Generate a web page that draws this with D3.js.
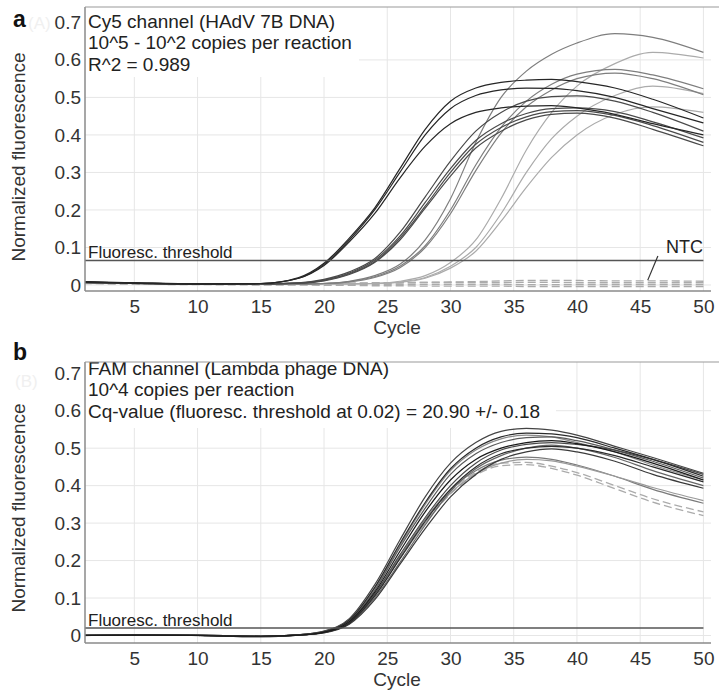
<!DOCTYPE html>
<html>
<head>
<meta charset="utf-8">
<script src="https://cdn.jsdelivr.net/npm/d3@7"></script>
<style>
  body { margin: 0; background: #fff; }
  text { font-family: "Liberation Sans", Arial, sans-serif; }
</style>
</head>
<body>
<div id="chart"></div>
<script>
const cycles = [1, 5, 10, 15, 18, 20, 22, 24, 26, 28, 30, 32, 34, 36, 38, 40, 43, 46, 50];
const xTicks = [5, 10, 15, 20, 25, 30, 35, 40, 45, 50];
const yTicks = [0, 0.1, 0.2, 0.3, 0.4, 0.5, 0.6, 0.7];
const gridY = [0, 0.1, 0.2, 0.3, 0.4, 0.5, 0.6];

// panel a, Cy5 channel, by dilution
const cy5_1e5 = [
  [.008,.005,.003,.004,.02,.058,.125,.205,.31,.415,.49,.525,.54,.546,.548,.542,.525,.495,.445],
  [.007,.005,.003,.004,.018,.055,.12,.2,.30,.40,.47,.505,.52,.525,.524,.518,.50,.47,.432],
  [.009,.006,.003,.004,.018,.052,.115,.19,.285,.37,.43,.46,.472,.477,.478,.472,.455,.43,.40]
];
const cy5_1e4 = [
  [.008,.005,.003,.003,.006,.015,.035,.07,.14,.235,.33,.41,.46,.49,.502,.504,.49,.46,.41],
  [.007,.005,.003,.003,.005,.013,.032,.066,.13,.22,.31,.385,.43,.457,.47,.472,.462,.435,.392],
  [.008,.005,.003,.003,.005,.012,.03,.062,.125,.21,.30,.375,.42,.448,.462,.465,.452,.425,.38],
  [.006,.004,.002,.003,.005,.011,.028,.06,.12,.205,.29,.365,.41,.44,.455,.458,.445,.415,.371]
];
const cy5_1e3 = [
  [.007,.004,.002,.002,.003,.004,.01,.025,.055,.12,.23,.38,.50,.57,.615,.645,.67,.66,.62],
  [.006,.004,.002,.002,.003,.004,.009,.022,.05,.105,.20,.32,.42,.49,.535,.562,.575,.56,.523],
  [.007,.004,.002,.002,.003,.004,.008,.02,.046,.10,.19,.305,.405,.475,.52,.55,.565,.55,.507]
];
const cy5_1e2 = [
  [.006,.004,.002,.002,.002,.003,.003,.004,.01,.025,.06,.12,.23,.36,.46,.53,.59,.62,.605],
  [.006,.004,.002,.002,.002,.003,.003,.004,.008,.02,.05,.10,.19,.30,.39,.45,.505,.53,.51],
  [.005,.004,.002,.002,.002,.003,.003,.004,.007,.018,.045,.09,.17,.26,.34,.40,.455,.475,.46]
];
const cy5_ntc = [
  [.006,.004,.003,.003,.003,.003,.004,.005,.006,.007,.008,.009,.011,.012,.012,.012,.011,.011,.010],
  [.005,.004,.003,.003,.003,.004,.005,.006,.006,.007,.007,.007,.007,.007,.007,.006,.006,.006,.006],
  [.005,.003,.002,.002,.002,.002,.002,.002,.002,.002,.002,.002,.002,.001,.001,.001,.001,.001,.001],
  [.004,.002,.001,.0,.0,-.001,-.001,-.002,-.002,-.003,-.003,-.003,-.003,-.004,-.004,-.004,-.004,-.004,-.004]
];

// panel b, FAM channel (internal control)
const famCurves = [
  [.0,.001,.0,-.002,.001,.009,.036,.11,.21,.31,.39,.44,.468,.476,.47,.455,.425,.39,.353],
  [.001,.001,.0,-.002,.001,.009,.035,.107,.205,.30,.38,.432,.46,.47,.466,.452,.425,.395,.36],
  [.001,.002,.001,-.002,.002,.01,.04,.125,.24,.35,.44,.495,.525,.535,.53,.515,.49,.455,.415],
  [.001,.001,.0,-.002,.001,.008,.032,.10,.195,.295,.385,.445,.48,.50,.508,.50,.475,.44,.40],
  [.0,.001,.0,-.003,.001,.007,.03,.095,.19,.285,.37,.43,.47,.49,.498,.49,.465,.43,.393],
  [.001,.002,.0,-.002,.002,.01,.04,.12,.235,.34,.43,.485,.515,.528,.53,.52,.495,.465,.42],
  [.001,.002,.001,-.002,.001,.009,.035,.11,.215,.315,.40,.46,.495,.51,.515,.51,.495,.47,.43],
  [.0,.001,.0,-.003,.001,.008,.033,.105,.205,.305,.39,.45,.485,.50,.505,.50,.48,.45,.41],
  [.0,.002,.001,-.002,.002,.011,.042,.128,.245,.355,.445,.50,.53,.54,.538,.528,.50,.47,.425],
  [.001,.002,.001,-.002,.002,.012,.045,.135,.255,.37,.46,.515,.545,.553,.548,.535,.505,.475,.433],
  [.0,.001,.0,-.002,.001,.009,.037,.115,.225,.33,.415,.47,.50,.515,.52,.512,.49,.46,.415]
];
const famColors = ["#7a7a7a", "#9a9a9a", "#8a8a8a", "#666", "#3a3a3a", "#5a5a5a", "#4a4a4a", "#2a2a2a", "#2a2a2a", "#444", "#1a1a1a"];
const famNtc = [
  [.0,.001,.0,-.002,.001,.009,.036,.11,.21,.305,.385,.435,.46,.462,.452,.435,.40,.365,.33],
  [.0,.001,.0,-.002,.001,.008,.034,.106,.205,.30,.378,.428,.453,.456,.446,.428,.392,.356,.32]
];

const width = 719, height = 690;
const left = 85, right = 711;

let svg = d3.select("#chart").append("svg")
    .attr("width", width)
    .attr("height", height);

let x = d3.scaleLinear().domain([1.1, 50.6]).range([left, right]);

function drawPanel(p) {
    let y = d3.scaleLinear().domain(p.yDomain).range([p.bottom, p.top]);
    let g = svg.append("g");

    g.append("clipPath").attr("id", "clip" + p.id)
      .append("rect")
        .attr("x", left).attr("y", p.top)
        .attr("width", width - left).attr("height", p.bottom - p.top);

    // grid
    g.selectAll(".vg").data(xTicks).enter().append("line")
        .attr("x1", d => x(d)).attr("x2", d => x(d))
        .attr("y1", p.top).attr("y2", p.bottom)
        .attr("stroke", "#e6e6e6").attr("stroke-width", 1);
    g.selectAll(".hg").data(gridY).enter().append("line")
        .attr("x1", left).attr("x2", right)
        .attr("y1", d => y(d)).attr("y2", d => y(d))
        .attr("stroke", "#e6e6e6").attr("stroke-width", 1);

    // white box behind the header text
    g.append("rect")
        .attr("x", left + 1).attr("y", p.top)
        .attr("width", p.boxW).attr("height", p.boxH)
        .attr("fill", "#fff");

    let line = d3.line()
        .x((d, i) => x(cycles[i]))
        .y(d => y(d))
        .curve(d3.curveMonotoneX);

    let curves = g.append("g").attr("clip-path", "url(#clip" + p.id + ")");

    p.dashed.forEach(function(vals) {
        curves.append("path")
            .attr("d", line(vals))
            .attr("fill", "none")
            .attr("stroke", "#ababab")
            .attr("stroke-width", 1.3)
            .attr("stroke-dasharray", "8,4");
    });
    p.series.forEach(function(s) {
        curves.append("path")
            .attr("d", line(s.values))
            .attr("fill", "none")
            .attr("stroke", s.color)
            .attr("stroke-width", 1.2);
    });

    // threshold
    g.append("line")
        .attr("x1", left).attr("x2", x(50))
        .attr("y1", y(p.threshold)).attr("y2", y(p.threshold))
        .attr("stroke", "#555").attr("stroke-width", 1.5);
    g.append("text")
        .attr("x", left + 3).attr("y", y(p.threshold) - 2.5)
        .style("font-size", "17px").attr("fill", "#222")
        .text("Fluoresc. threshold");

    // header text
    p.header.forEach(function(t, i) {
        g.append("text")
            .attr("x", left + 3).attr("y", p.headerY + i * 21.5)
            .style("font-size", "19px").attr("fill", "#222")
            .text(t);
    });

    // axes
    let ya = g.append("g")
        .attr("transform", "translate(" + left + ",0)")
        .call(d3.axisLeft(y).tickValues(yTicks).tickSize(0).tickPadding(4)
            .tickFormat(d => d === 0 ? "0" : d.toFixed(1)));
    ya.select(".domain").remove();
    ya.selectAll("text").style("font-size", "19px").attr("fill", "#333")
        .style("font-family", "Liberation Sans, Arial, sans-serif");

    let xa = g.append("g")
        .attr("transform", "translate(0," + p.bottom + ")")
        .call(d3.axisBottom(x).tickValues(xTicks).tickSize(0).tickPadding(9));
    xa.select(".domain").remove();
    xa.selectAll("text").style("font-size", "19px").attr("fill", "#333")
        .style("font-family", "Liberation Sans, Arial, sans-serif");

    g.append("line")
        .attr("x1", left).attr("x2", left)
        .attr("y1", p.top).attr("y2", p.bottom)
        .attr("stroke", "#8a8a8a").attr("stroke-width", 1.5);
    g.append("line")
        .attr("x1", left).attr("x2", right)
        .attr("y1", p.bottom).attr("y2", p.bottom)
        .attr("stroke", "#8a8a8a").attr("stroke-width", 1.5);
    g.append("line")
        .attr("x1", left).attr("x2", width)
        .attr("y1", p.top).attr("y2", p.top)
        .attr("stroke", "#9a9a9a").attr("stroke-width", 1.2);

    // axis titles
    g.append("text")
        .attr("transform", "translate(18," + p.yTitleY + ")rotate(-90)")
        .attr("dy", "0.35em")
        .style("text-anchor", "middle").style("font-size", "19px").attr("fill", "#333")
        .text("Normalized  fluorescence");
    g.append("text")
        .attr("x", 397).attr("y", p.bottom + 43)
        .style("text-anchor", "middle").style("font-size", "19px").attr("fill", "#333")
        .text("Cycle");

    // panel letter with faint ghost label
    g.append("text")
        .attr("x", p.ghostX).attr("y", p.ghostY)
        .style("font-size", "17px").attr("fill", "#f0f0f0")
        .text(p.ghost);
    g.append("text")
        .attr("x", 13).attr("y", p.letterY)
        .style("font-size", "23px").style("font-weight", "bold").attr("fill", "#111")
        .text(p.letter);

    return y;
}

let seriesA = [];
cy5_1e2.forEach(v => seriesA.push({values: v, color: "#ababab"}));
cy5_1e3.forEach(v => seriesA.push({values: v, color: "#7e7e7e"}));
cy5_1e4.forEach(v => seriesA.push({values: v, color: "#4a4a4a"}));
cy5_1e5.forEach(v => seriesA.push({values: v, color: "#262626"}));

let yA = drawPanel({
    id: "a", top: 7, bottom: 291, yDomain: [-0.016, 0.741],
    threshold: 0.065, boxW: 273, boxH: 70, headerY: 27.5,
    header: ["Cy5 channel (HAdV 7B DNA)", "10^5 - 10^2 copies per reaction", "R^2 = 0.989"],
    series: seriesA, dashed: cy5_ntc,
    yTitleY: 157, letter: "a", letterY: 27, ghost: "(A)", ghostX: 28, ghostY: 29
});

// NTC label with leader line
svg.append("line")
    .attr("x1", x(46.4)).attr("y1", 256)
    .attr("x2", x(45.6)).attr("y2", yA(0.013))
    .attr("stroke", "#333").attr("stroke-width", 1.2);
svg.append("text")
    .attr("x", 666).attr("y", 253)
    .style("font-size", "18px").attr("fill", "#222")
    .text("NTC");

drawPanel({
    id: "b", top: 362, bottom: 643, yDomain: [-0.02, 0.73],
    threshold: 0.02, boxW: 470, boxH: 66, headerY: 374.5,
    header: ["FAM channel (Lambda phage DNA)", "10^4 copies per reaction",
             "Cq-value (fluoresc. threshold at 0.02) = 20.90 +/- 0.18"],
    series: famCurves.map((v, i) => ({values: v, color: famColors[i]})),
    dashed: famNtc,
    yTitleY: 508, letter: "b", letterY: 360, ghost: "(B)", ghostX: 15, ghostY: 387
});
</script>
</body>
</html>
